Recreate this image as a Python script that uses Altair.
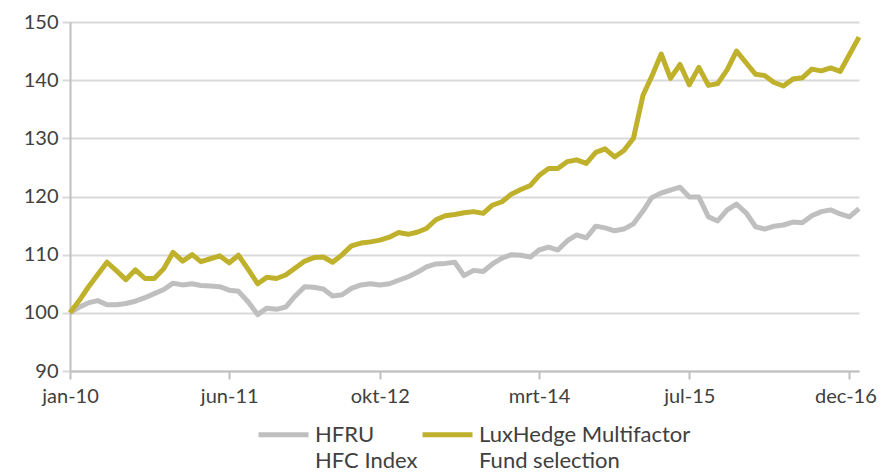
import altair as alt
import pandas as pd

# Monthly observations, jan-10 .. jan-17
months = pd.date_range("2010-01-01", "2017-01-01", freq="MS").strftime("%Y-%m-%d").tolist()

hfru_name = "HFRU|HFC Index"
lux_name = "LuxHedge Multifactor|Fund selection"

hfru = [100.0, 101.0, 101.7, 102.1, 101.4, 101.4, 101.6, 102.0, 102.6, 103.3,
        104.0, 105.1, 104.8, 105.0, 104.7, 104.6, 104.5, 103.9, 103.7, 101.9,
        99.7, 100.8, 100.6, 101.0, 102.9, 104.5, 104.4, 104.1, 102.9, 103.1,
        104.2, 104.8, 105.0, 104.8, 105.0, 105.6, 106.2, 107.0, 107.9, 108.4,
        108.5, 108.7, 106.4, 107.3, 107.1, 108.4, 109.4, 110.0, 109.9, 109.6,
        110.8, 111.3, 110.8, 112.4, 113.4, 112.9, 114.9, 114.6, 114.1, 114.4,
        115.3, 117.5, 119.8, 120.6, 121.1, 121.6, 119.9, 119.9, 116.5, 115.8,
        117.7, 118.7, 117.2, 114.8, 114.4, 114.9, 115.1, 115.6, 115.5, 116.7,
        117.4, 117.7, 117.0, 116.5, 117.9]

lux = [100.0, 102.2, 104.4, 106.6, 108.7, 107.2, 105.7, 107.4, 105.9, 105.9,
       107.6, 110.4, 108.9, 110.0, 108.8, 109.3, 109.8, 108.6, 109.9, 107.5,
       105.0, 106.1, 105.9, 106.5, 107.7, 108.9, 109.5, 109.6, 108.7, 110.0,
       111.5, 112.0, 112.2, 112.5, 113.0, 113.8, 113.5, 113.9, 114.5, 116.0,
       116.7, 116.9, 117.2, 117.4, 117.1, 118.5, 119.1, 120.4, 121.2, 121.9,
       123.6, 124.8, 124.8, 126.0, 126.3, 125.7, 127.6, 128.2, 126.8, 127.9,
       130.0, 137.4, 140.6, 144.5, 140.3, 142.7, 139.2, 142.2, 139.1, 139.4,
       141.8, 145.0, 143.0, 141.0, 140.8, 139.6, 139.0, 140.2, 140.4, 141.9,
       141.6, 142.1, 141.5, 144.4, 147.4]

x_tick_dates = [(2010, 1), (2011, 6), (2012, 10), (2014, 3), (2015, 7), (2016, 12)]
y_ticks = [90, 100, 110, 120, 130, 140, 150]
dutch_months = ["jan", "feb", "mrt", "apr", "mei", "jun", "jul", "aug", "sep", "okt", "nov", "dec"]

df = pd.DataFrame({
    "date": months * 2,
    "value": hfru + lux,
    "series": [hfru_name] * len(hfru) + [lux_name] * len(lux),
})

month_arr = "[" + ",".join("'%s'" % m for m in dutch_months) + "]"
x_label_expr = month_arr + "[utcmonth(datum.value)] + '-' + utcFormat(datum.value, '%y')"

FONT = "Lato"
TEXT = "#404040"
GRID = "#D9D9D9"
AXIS = "#BFBFBF"

chart = alt.Chart(df).mark_line(strokeWidth=5, strokeJoin="round", strokeCap="butt").encode(
    x=alt.X("date:T",
            scale=alt.Scale(type="utc",
                            domain=[alt.DateTime(year=2010, month=1, date=1, utc=True),
                                    alt.DateTime(year=2017, month=1, date=1, utc=True)]),
            axis=alt.Axis(title=None,
                          values=[alt.DateTime(year=y, month=m, date=1, utc=True) for y, m in x_tick_dates],
                          labelExpr=x_label_expr,
                          grid=False, domainColor=AXIS, domainWidth=2,
                          tickColor=AXIS, tickWidth=2, tickSize=8,
                          labelFont=FONT, labelFontSize=20, labelColor=TEXT,
                          labelOffset={"condition": {"test": "datum.value > utc(2016, 6, 1)", "value": -4},
                                       "value": 0},
                          labelPadding=7, labelFlush=False)),
    y=alt.Y("value:Q",
            scale=alt.Scale(domain=[90, 150], nice=False, zero=False),
            axis=alt.Axis(title=None, values=y_ticks, grid=True, gridColor=GRID, gridWidth=2,
                          domainColor=AXIS, domainWidth=2,
                          tickColor=GRID, tickWidth=2, tickSize=8,
                          labelFont=FONT, labelFontSize=20, labelColor=TEXT,
                          labelPadding=4)),
    color=alt.Color("series:N",
                    scale=alt.Scale(domain=[hfru_name, lux_name], range=["#BFBFBF", "#BFB12B"]),
                    legend=alt.Legend(title=None, orient="none", legendX=186, legendY=385,
                                      direction="horizontal", symbolType="stroke",
                                      symbolStrokeWidth=5, symbolSize=2500,
                                      labelFont=FONT, labelFontSize=22, labelColor=TEXT,
                                      labelExpr="split(datum.label, '|')",
                                      labelBaseline="middle", labelOffset=4,
                                      columnPadding=-6, padding=0, labelLimit=400)),
).properties(
    width=789,
    height=349,
    autosize=alt.AutoSizeParams(type="none"),
    padding={"left": 62, "top": 14, "right": 19, "bottom": 97},
).configure(
    style={"guide-label": {"lineHeight": 26}}
).configure_view(stroke=None)

chart.save("out.html", embed_options={"renderer": "svg", "actions": False})
